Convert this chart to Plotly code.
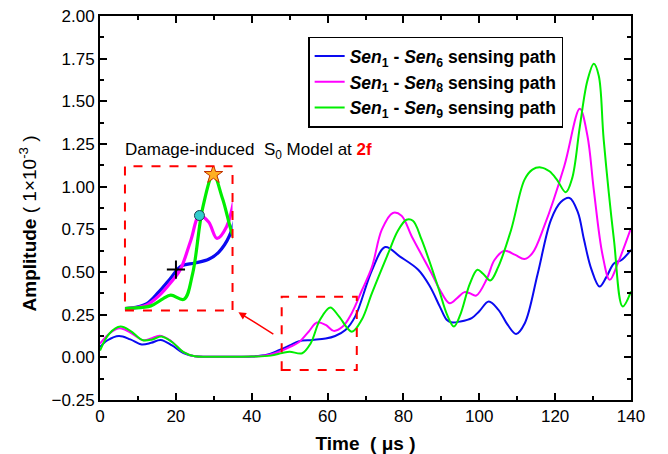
import plotly.graph_objects as go

# ---- data ----
t_blue = [0, 2, 5, 8, 11, 13.5, 16, 19, 22, 25, 30, 40, 44, 47, 50, 52.5, 56, 59.5, 62, 64.7,
          67.3, 71.7, 75.2, 79.1, 83.9, 87, 89.6, 91.4, 92.6, 95, 98, 100, 102.5, 105, 107.5,
          109.7, 112, 115.4, 118.9, 121.5, 123.8, 126, 127.6, 129.5, 131.7, 133.5, 135.5, 137.5, 140]
a_blue = [0.06, 0.10, 0.125, 0.105, 0.075, 0.085, 0.102, 0.07, 0.025, 0.006, 0.004, 0.005, 0.015,
          0.04, 0.07, 0.095, 0.102, 0.11, 0.125, 0.16, 0.24, 0.51, 0.646, 0.59, 0.513, 0.415,
          0.297, 0.22, 0.205, 0.21, 0.23, 0.27, 0.327, 0.28, 0.19, 0.137, 0.2, 0.49, 0.806, 0.91,
          0.934, 0.85, 0.69, 0.52, 0.415, 0.47, 0.55, 0.57, 0.63]

t_mag = [0, 2.5, 5.2, 8, 11.4, 13.5, 15.7, 18.5, 22, 25, 30, 40, 44, 47.2, 50, 52.4, 55, 57.2,
         59.5, 61.6, 64, 66.4, 69, 71.7, 74.3, 77.2, 79.5, 82.2, 87.4, 90, 92.2, 94.3, 96.1,
         97.5, 99.2, 102, 104, 106.6, 109.5, 111.9, 114, 117.1, 122.4, 126.5, 128.5, 130.2,
         132.5, 134.4, 136.5, 140]
a_mag = [0.08, 0.14, 0.17, 0.145, 0.10, 0.11, 0.127, 0.10, 0.03, 0.006, 0.004, 0.005, 0.012,
         0.033, 0.06, 0.088, 0.15, 0.204, 0.19, 0.155, 0.18, 0.26, 0.39, 0.53, 0.748, 0.846,
         0.83, 0.708, 0.493, 0.38, 0.317, 0.35, 0.382, 0.375, 0.362, 0.46, 0.57, 0.624, 0.60,
         0.576, 0.61, 0.767, 1.12, 1.456, 1.30, 0.98, 0.60, 0.454, 0.55, 0.757]

t_grn = [0, 2.5, 5.4, 8, 11.3, 13.8, 16.2, 19, 22, 25, 30, 40, 45, 48, 50, 53.3, 55.5, 58, 60.7,
         63, 66.4, 69, 71.7, 76, 78.5, 80.8, 82.5, 84.8, 89.1, 91.5, 93.3, 95, 97.5, 99.5, 101,
         102.9, 105, 108.4, 111.9, 114, 116.2, 118.5, 120.5, 122.8, 124.5, 126.5, 128.5, 130.2,
         131.5, 132.8, 135.5, 137.8, 140]
a_grn = [0.04, 0.14, 0.18, 0.155, 0.10, 0.105, 0.122, 0.09, 0.03, 0.006, 0.004, 0.005, 0.01,
         0.025, 0.033, 0.024, 0.08, 0.22, 0.292, 0.24, 0.15, 0.22, 0.376, 0.61, 0.74, 0.806,
         0.80, 0.689, 0.415, 0.25, 0.18, 0.25, 0.43, 0.513, 0.49, 0.45, 0.53, 0.748, 1.04, 1.10,
         1.113, 1.09, 1.04, 0.967, 1.05, 1.35, 1.62, 1.72, 1.65, 1.276, 0.689, 0.298, 0.386]

series_names = [
    "<b><i>Sen</i><sub>1</sub> - <i>Sen</i><sub>6</sub> sensing path</b>",
    "<b><i>Sen</i><sub>1</sub> - <i>Sen</i><sub>8</sub> sensing path</b>",
    "<b><i>Sen</i><sub>1</sub> - <i>Sen</i><sub>9</sub> sensing path</b>",
]
colors = ["#0A0AF0", "#FF00FF", "#00EE00"]

# markers in the inset (blue shoulder, magenta peak, green peak)
mark_t = [51.3, 57.2, 60.7]
mark_a = [0.088, 0.204, 0.292]

y_ticks = [-0.25, 0.0, 0.25, 0.5, 0.75, 1.0, 1.25, 1.5, 1.75, 2.0]
x_ticks = [0, 20, 40, 60, 80, 100, 120, 140]

FONT = "Liberation Sans, Arial, sans-serif"

fig = go.Figure()
series = [(t_blue, a_blue), (t_mag, a_mag), (t_grn, a_grn)]
for (tt, aa), nm, c in zip(series, series_names, colors):
    fig.add_trace(go.Scatter(x=tt, y=aa, mode="lines", name=nm,
                             line=dict(color=c, width=2, shape="spline", smoothing=1.0),
                             xaxis="x", yaxis="y"))

# inset (zoom of the dashed region)
for (tt, aa), c in zip(series, colors):
    fig.add_trace(go.Scatter(x=tt, y=aa, mode="lines", showlegend=False,
                             line=dict(color=c, width=3.2, shape="spline", smoothing=1.0),
                             xaxis="x2", yaxis="y2"))

fig.add_trace(go.Scatter(x=[mark_t[0]], y=[mark_a[0]], mode="markers", showlegend=False,
                         marker=dict(symbol="cross-thin", size=13, line=dict(color="black", width=2)),
                         xaxis="x2", yaxis="y2"))
fig.add_trace(go.Scatter(x=[mark_t[1]], y=[mark_a[1]], mode="markers", showlegend=False,
                         marker=dict(symbol="circle", size=10, color="#33CCCC",
                                     line=dict(color="#204050", width=1)),
                         xaxis="x2", yaxis="y2"))
fig.add_trace(go.Scatter(x=[mark_t[2]], y=[mark_a[2]], mode="markers", showlegend=False,
                         marker=dict(symbol="star", size=14, color="#FFB020",
                                     line=dict(color="#C03000", width=1)),
                         xaxis="x2", yaxis="y2"))

axis_common = dict(showline=True, linecolor="black", linewidth=2, mirror="ticks",
                   ticks="inside", ticklen=7, tickwidth=1.5, tickcolor="black",
                   showgrid=False, zeroline=False, automargin=False,
                   ticklabeloverflow="allow",
                   tickfont=dict(family=FONT, size=17, color="black"))

# page body has an 8px margin; figure offset accounted for in its size and margins
fig.update_layout(
    width=652, height=446,
    margin=dict(l=92, r=29, t=8, b=54, autoexpand=False),
    paper_bgcolor="white", plot_bgcolor="white",
    font=dict(family=FONT, color="black"),
    xaxis=dict(range=[0, 140], tickvals=x_ticks,
               minor=dict(dtick=10, tick0=0, ticks="inside", ticklen=4, tickwidth=1.5, tickcolor="black"),
               title=dict(text="<b>Time  ( μs )</b>", font=dict(family=FONT, size=19), standoff=15),
               **axis_common),
    yaxis=dict(range=[-0.25, 2.0], tickvals=y_ticks, tickformat=".2f",
               minor=dict(dtick=0.125, tick0=0, ticks="inside", ticklen=4, tickwidth=1.5, tickcolor="black"),
               **axis_common),
    xaxis2=dict(domain=[0.047, 0.2496], range=[38.5, 65.5], anchor="y2",
                visible=False, showgrid=False, zeroline=False),
    yaxis2=dict(domain=[0.233, 0.609], range=[0.0, 0.31], anchor="x2",
                visible=False, showgrid=False, zeroline=False),
    legend=dict(x=0.392, y=0.946, xanchor="left", yanchor="top",
                bgcolor="white", bordercolor="black", borderwidth=1.5,
                font=dict(family=FONT, size=17.5, color="black")),
    showlegend=True,
)

# y-axis title (placed below centre, as in the reference)
fig.add_annotation(x=-0.1347, y=0.461, xref="paper", yref="paper", xanchor="center", yanchor="middle",
                   showarrow=False, textangle=-90,
                   text="<b>Amplitude</b> ( 1×10<sup>-3</sup> )",
                   font=dict(family=FONT, size=19, color="black"))

# dashed rectangles
fig.add_shape(type="rect", xref="x", yref="y", x0=47.9, x1=67.7, y0=-0.074, y1=0.355,
              line=dict(color="red", width=2, dash="dash"))
fig.add_shape(type="rect", xref="x2 domain", yref="y2 domain", x0=0, x1=1, y0=0, y1=1,
              line=dict(color="red", width=2, dash="dash"))

# arrow from region to inset
fig.add_annotation(x=36.5, y=0.264, ax=46.1, ay=0.131, xref="x", yref="y", axref="x", ayref="y",
                   showarrow=True, arrowhead=2, arrowsize=1, arrowwidth=1.5, arrowcolor="red", text="")

fig.add_annotation(x=0.043, y=0.648, xref="paper", yref="paper", xanchor="left", yanchor="middle",
                   showarrow=False,
                   text="Damage-induced  S<sub>0</sub> Model at <b><span style='color:red'>2f</span></b>",
                   font=dict(family=FONT, size=17, color="black"))

fig.write_html("out.html")
